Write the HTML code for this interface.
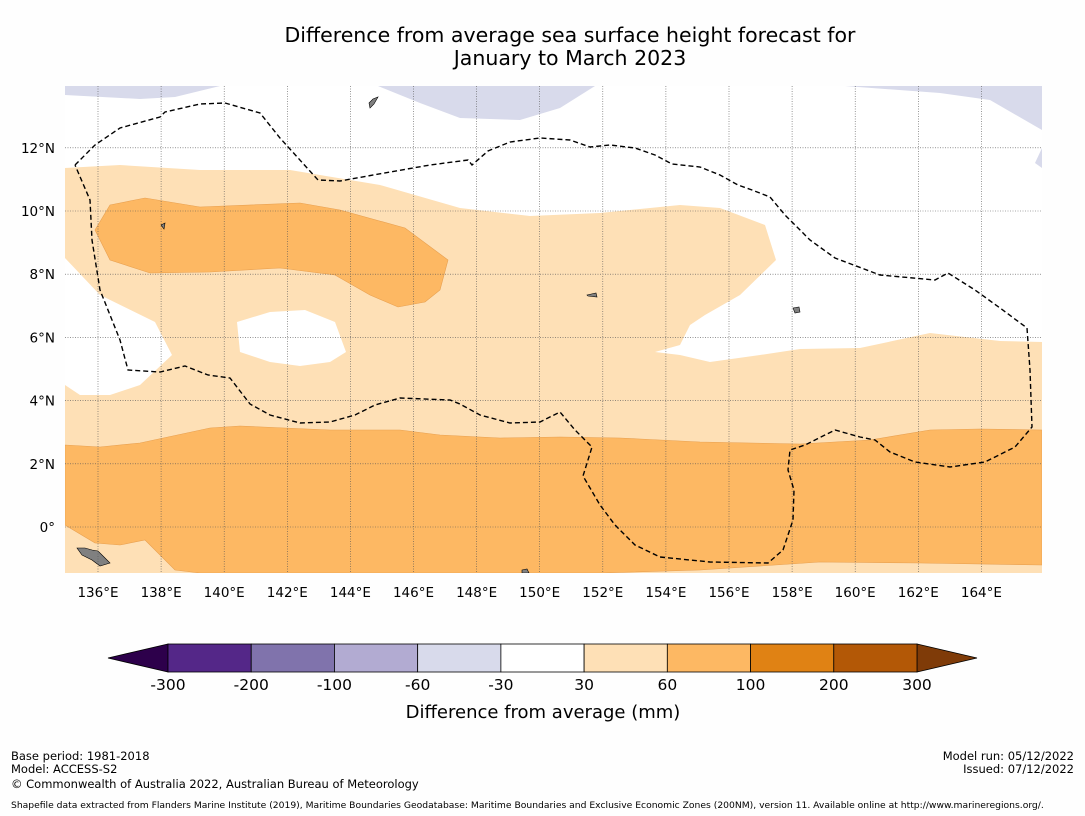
<!DOCTYPE html>
<html><head><meta charset="utf-8"><style>
body{margin:0;background:#fefefe;font-family:"DejaVu Sans","Liberation Sans",sans-serif;}
svg{display:block;font-family:"DejaVu Sans","Liberation Sans",sans-serif;}
</style></head><body>
<svg width="1085" height="816" viewBox="0 0 1085 816">
<rect x="0" y="0" width="1085" height="816" fill="#fefefe"/>
<text x="570" y="42" text-anchor="middle" font-size="20.5" fill="#000">Difference from average sea surface height forecast for</text>
<text x="570" y="65" text-anchor="middle" font-size="20.5" fill="#000">January to March 2023</text>
<g id="map">
<clipPath id="mc"><rect x="65" y="86" width="977" height="487"/></clipPath>
<g clip-path="url(#mc)">
<rect x="65" y="86" width="977" height="487" fill="#ffffff"/>
<polygon fill="#fee0b6" points="65,168 120,165 200,170 290,170 380,185 460,208 530,216 600,213 680,205 720,208 765,225 776,260 740,295 705,315 690,325 680,345 655,352 680,355 710,362 760,355 800,349 860,348 930,333 1000,341 1042,342 1042,573 65,573 65,385 80,395 110,395 140,385 172,355 155,322 100,295 65,258"/>
<polygon fill="#fdb863" stroke="#e8a050" stroke-width="0.6" points="65,445 100,447 140,443 210,428 240,426 330,430 400,430 440,435 500,438 560,437 620,438 700,442 800,444 870,440 930,430 980,429 1042,430 1042,565 920,563 820,562 700,570 600,573 200,573 175,570 145,540 120,545 95,543 65,525"/>
<polygon fill="#fdb863" stroke="#e8a050" stroke-width="0.6" points="95,230 110,205 145,198 200,207 300,203 340,210 405,228 448,260 440,290 425,302 398,307 370,295 335,275 280,268 210,272 150,273 110,260"/>
<polygon fill="#ffffff" points="237,322 270,312 305,310 335,322 346,352 330,362 300,366 270,362 240,352"/>
<polygon fill="#d8daeb" points="65,86 220,86 175,97 140,99 65,95"/>
<polygon fill="#d8daeb" points="378,86 420,103 460,118 520,120 560,108 595,86"/>
<polygon fill="#d8daeb" points="845,86 940,93 990,100 1042,130 1042,86"/>
<polygon fill="#d8daeb" points="1042,148 1035,163 1042,168"/>
<g fill="#808080" stroke="#000" stroke-width="0.6">
<polygon points="369,103 373,99 378,97 374,104 370,108"/>
<polygon points="77,548 85,548 92,550 98,551 104,557 110,563 100,566 92,560 82,555"/>
<polygon points="793,308 799,307 800,312 795,313"/>
<polygon points="522,570 527,569 529,573 522,573"/>
<polygon points="161,225 165,223 164,229"/>
<polygon points="587,295 596,293 597,297 588,296"/>
</g>
<g id="grid" stroke="#555" stroke-width="0.6" stroke-dasharray="1,1.5"></g>
<polyline fill="none" stroke="#000" stroke-width="1.4" stroke-dasharray="5,3" points="75,165 95,145 120,128 160,117 165,112 200,104 225,103 260,113 280,138 318,180 340,181 390,172 430,165 468,160 472,165 488,151 510,142 540,138 570,140 590,147 610,145 635,148 655,155 672,164 700,167 720,175 738,185 752,190 770,197 785,215 810,240 835,258 880,275 935,280 948,273 975,290 1000,308 1027,328 1030,370 1032,427 1015,447 985,462 950,467 915,462 890,452 875,440 860,437 835,430 805,445 790,450 788,470 794,490 793,520 783,550 768,563 710,562 660,557 635,545 615,525 600,505 583,476 592,447 575,430 560,412 540,422 510,423 480,415 460,404 450,400 400,398 375,405 355,415 330,422 300,423 270,415 250,404 230,378 208,375 185,366 160,372 128,370 120,340 100,290 92,240 90,200 75,165"/>
</g>
<g id="ticks" font-size="13.5" fill="#000"></g>
</g>
<g id="cbar"></g>
<text x="543" y="718" text-anchor="middle" font-size="18">Difference from average (mm)</text>
<g font-size="11.5" fill="#000">
<text x="11" y="760">Base period: 1981-2018</text>
<text x="11" y="773">Model: ACCESS-S2</text>
<text x="11" y="788">© Commonwealth of Australia 2022, Australian Bureau of Meteorology</text>
<text x="1074" y="760" text-anchor="end">Model run: 05/12/2022</text>
<text x="1074" y="773" text-anchor="end">Issued: 07/12/2022</text>
<text x="11" y="808" font-size="9.2">Shapefile data extracted from Flanders Marine Institute (2019), Maritime Boundaries Geodatabase: Maritime Boundaries and Exclusive Economic Zones (200NM), version 11. Available online at http://www.marineregions.org/.</text>
</g>
</svg>
<script>
const lonTicks=[136,138,140,142,144,146,148,150,152,154,156,158,160,162,164];
const latTicks=[12,10,8,6,4,2,0];
const levelLabels=["-300","-200","-100","-60","-30","30","60","100","200","300"];
const levelColors=["#542788","#8073ac","#b2abd2","#d8daeb","#ffffff","#fee0b6","#fdb863","#e08214","#b35806"];
const extendColors=["#2d004b","#7f3b08"];
const NS="http://www.w3.org/2000/svg";
const X=lon=>98+(lon-136)*31.55, Y=lat=>527-lat*31.6;
function mk(t,a,p){const e=document.createElementNS(NS,t);for(const k in a)e.setAttribute(k,a[k]);p.appendChild(e);return e;}
const grid=document.getElementById('grid'),ticks=document.getElementById('ticks');
lonTicks.forEach(l=>{
 const ln=mk('line',{x1:X(l),x2:X(l),y1:86,y2:573},grid);
 
 
 const t=mk('text',{x:X(l),y:597,'text-anchor':'middle'},ticks);t.textContent=l+'°E';
 
 
});
latTicks.forEach(l=>{
 const ln=mk('line',{x1:65,x2:1042,y1:Y(l),y2:Y(l)},grid);
 
 
 const t=mk('text',{x:55,y:Y(l)+5,'text-anchor':'end'},ticks);t.textContent=l===0?'0°':l+'°N';
 
 
});
const cb=document.getElementById('cbar');
const x0=168,x1=917,y0=644,h=28,w=(x1-x0)/levelColors.length;
const lt=mk('polygon',{points:`108,${y0+h/2} ${x0},${y0} ${x0},${y0+h}`,fill:extendColors[0],stroke:'#000','stroke-width':0.8},cb);


const rt=mk('polygon',{points:`977,${y0+h/2} ${x1},${y0} ${x1},${y0+h}`,fill:extendColors[1],stroke:'#000','stroke-width':0.8},cb);


levelColors.forEach((c,i)=>{
 const r=mk('rect',{x:x0+i*w,y:y0,width:w,height:h,fill:c,stroke:'#000','stroke-width':0.8},cb);
 
 
});
levelLabels.forEach((s,i)=>{
 const t=mk('text',{x:x0+i*w,y:690,'text-anchor':'middle','font-size':15.5},cb);t.textContent=s;
 
 
});
</script>
</body></html>
